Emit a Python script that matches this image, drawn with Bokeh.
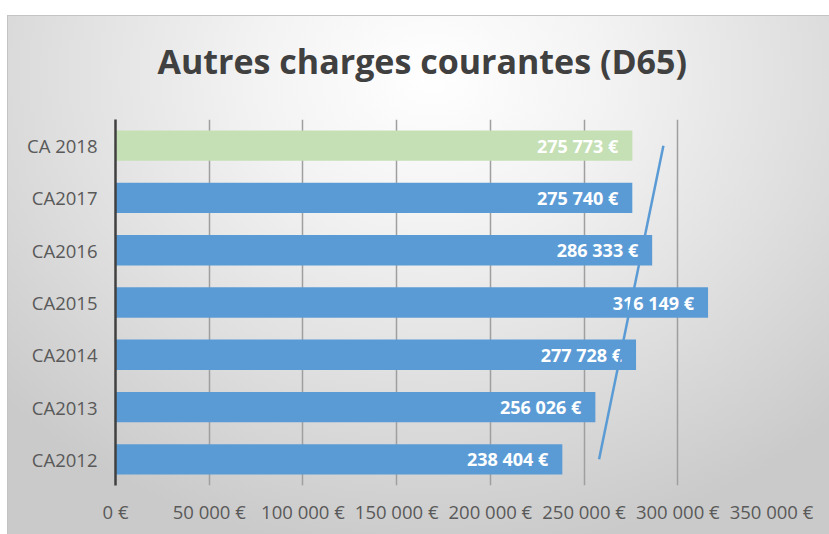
from bokeh.plotting import figure
from bokeh.models import FactorRange, FixedTicker, ColumnDataSource, Range1d
from bokeh.embed import file_html
from bokeh.resources import INLINE
from bokeh.core.properties import value
import numpy as np

title_text = "Autres charges courantes (D65)"
categories = ["CA2012", "CA2013", "CA2014", "CA2015", "CA2016", "CA2017", "CA 2018"]
values = [238404, 256026, 277728, 316149, 286333, 275740, 275773]
bar_colors = ["#5B9BD5"] * 6 + ["#C5E0B4"]
tick_values = [0, 50000, 100000, 150000, 200000, 250000, 300000, 350000]
tick_labels = ["0 €", "50 000 €", "100 000 €", "150 000 €", "200 000 €",
               "250 000 €", "300 000 €", "350 000 €"]


def fmt(v):
    return "{:,}".format(v).replace(",", " ") + " €"


labels = [fmt(v) for v in values]

# linear trend (least squares over category index)
idx = np.arange(1, len(values) + 1)
slope, intercept = np.polyfit(idx, values, 1)
trend = [slope * i + intercept for i in (idx[0], idx[-1])]

FONT = "Open Sans"
W, H = 829, 534

p = figure(width=W, height=H, output_backend="svg", toolbar_location=None,
           y_range=FactorRange(*categories, range_padding=0.0),
           x_range=Range1d(0, 350000),
           min_border_left=115, min_border_right=58, min_border_bottom=49,
           min_border_top=119)

p.background_fill_alpha = 0
p.border_fill_alpha = 0
p.outline_line_color = None
p.styles = {
    "background": (
        "linear-gradient(#ffffff, #ffffff) 0 0 / 100% 15px no-repeat, "
        "linear-gradient(#ffffff, #ffffff) 0 0 / 7px 100% no-repeat, "
        "linear-gradient(#c4c4c4, #c4c4c4) 0 15px / 100% 1px no-repeat, "
        "linear-gradient(#c4c4c4, #c4c4c4) 7px 0 / 1px 100% no-repeat, "
        "radial-gradient(ellipse 70% 90% at 52% 14%, #ffffff 0%, #f3f3f3 30%, #dfdfdf 65%, #cacaca 100%)"
    ),
}

src = ColumnDataSource(dict(cat=categories, val=values, col=bar_colors, lab=labels))
p.hbar(y="cat", right="val", left=0, height=0.58, color="col", source=src, line_color=None)

p.text(x="val", y="cat", text="lab", source=src, text_align="right", text_baseline="middle",
       x_offset=-14, text_color="white", text_font=value(FONT), text_font_style="bold",
       text_font_size="18px")

p.line(x=trend, y=[categories[0], categories[-1]], line_color="#5B9BD5", line_width=2.5)

# title
p.title.text = title_text
p.title.align = "left"
p.title.offset = 42
p.title.text_font = FONT
p.title.text_font_style = "bold"
p.title.text_font_size = "34px"
p.title.text_color = "#404040"
p.title.standoff = 71

# axes
p.xaxis.ticker = FixedTicker(ticks=tick_values)
p.xaxis.major_label_overrides = {t: l for t, l in zip(tick_values, tick_labels)}
p.xaxis.axis_line_color = None
p.xaxis.major_tick_line_color = None
p.xaxis.minor_tick_line_color = None
p.xaxis.major_label_text_font = FONT
p.xaxis.major_label_text_font_size = "18.5px"
p.xaxis.major_label_text_color = "#595959"
p.xaxis.major_label_standoff = 7

p.yaxis.axis_line_color = "#404040"
p.yaxis.axis_line_width = 2.5
p.yaxis.major_tick_line_color = None
p.yaxis.minor_tick_line_color = None
p.yaxis.major_label_text_font = FONT
p.yaxis.major_label_text_font_size = "18.5px"
p.yaxis.major_label_text_color = "#595959"
p.yaxis.major_label_standoff = 12

p.ygrid.grid_line_color = None
p.xgrid.grid_line_color = "#9f9f9f"
p.xgrid.grid_line_width = 1.5
p.xgrid.ticker = FixedTicker(ticks=tick_values)

open("out.html", "w").write(file_html(p, INLINE))
